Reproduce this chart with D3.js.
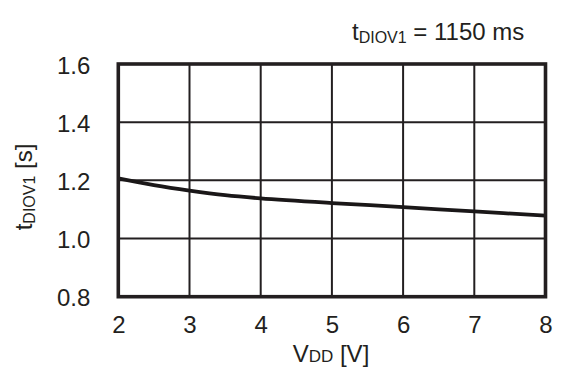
<!DOCTYPE html>
<html>
<head>
<meta charset="utf-8">
<script src="https://cdn.jsdelivr.net/npm/d3@7"></script>
<style>
  html, body { margin: 0; padding: 0; background: #ffffff; }
  svg text { font-family: "Liberation Sans", Arial, Helvetica, sans-serif; fill: #231f20; }
</style>
</head>
<body>
<svg id="chart" width="561" height="374"></svg>
<script>
// Supply voltage (V) and the resulting tDIOV1 delay (s)
const vddValues = [2, 2.5, 3, 3.5, 4, 5, 6, 7, 8];
const tDiovValues = [1.207, 1.184, 1.165, 1.149, 1.138, 1.122, 1.108, 1.093, 1.079];

// Axis ticks
const xTicks = [2, 3, 4, 5, 6, 7, 8];
const yTicks = [0.8, 1.0, 1.2, 1.4, 1.6];

const svg = d3.select("#chart");
const ink = "#231f20";

const plot = { left: 118.3, right: 545.5, top: 64, bottom: 296.7 };

const x = d3.scaleLinear().domain([2, 8]).range([plot.left, plot.right]);
const y = d3.scaleLinear().domain([0.8, 1.6]).range([plot.bottom, plot.top]);

// Grid lines
const grid = svg.append("g");
grid.selectAll("line.v")
  .data(xTicks.slice(1, -1))
  .join("line")
  .attr("x1", d => x(d)).attr("x2", d => x(d))
  .attr("y1", plot.top).attr("y2", plot.bottom)
  .attr("stroke", ink).attr("stroke-width", 2);
grid.selectAll("line.h")
  .data(yTicks.slice(1, -1))
  .join("line")
  .attr("x1", plot.left).attr("x2", plot.right)
  .attr("y1", d => y(d)).attr("y2", d => y(d))
  .attr("stroke", ink).attr("stroke-width", 2);

// Tick labels via axes
const xAxis = svg.append("g")
  .attr("transform", `translate(0,${plot.bottom})`)
  .call(d3.axisBottom(x).tickValues(xTicks).tickFormat(d3.format("d")).tickSize(0).tickPadding(0));
xAxis.select(".domain").remove();
xAxis.selectAll("text")
  .attr("y", 36).attr("dy", null)
  .style("font-size", "24px").attr("fill", ink);

const yAxis = svg.append("g")
  .attr("transform", `translate(${plot.left},0)`)
  .call(d3.axisLeft(y).tickValues(yTicks).tickFormat(d3.format(".1f")).tickSize(0).tickPadding(0));
yAxis.select(".domain").remove();
yAxis.selectAll("text")
  .attr("x", -28).attr("dy", null).attr("y", 9)
  .style("font-size", "24px").attr("fill", ink);

// Curve
const line = d3.line()
  .x((d, i) => x(vddValues[i]))
  .y(d => y(d))
  .curve(d3.curveCatmullRom.alpha(0.5));
svg.append("path")
  .datum(tDiovValues)
  .attr("d", line)
  .attr("fill", "none")
  .attr("stroke", "#1a1718")
  .attr("stroke-width", 3.8)
  .attr("stroke-linecap", "butt");

// Plot frame
svg.append("rect")
  .attr("x", plot.left).attr("y", plot.top)
  .attr("width", plot.right - plot.left)
  .attr("height", plot.bottom - plot.top)
  .attr("fill", "none")
  .attr("stroke", ink)
  .attr("stroke-width", 3.6);

// Header annotation
const title = svg.append("text")
  .attr("x", 352).attr("y", 40)
  .style("font-size", "24px");
title.append("tspan").text("t");
title.append("tspan").attr("dy", 3).style("font-size", "16px").text("DIOV1");
title.append("tspan").attr("dy", -3).text(" = 1150 ms");

// X axis title
const xTitle = svg.append("text")
  .attr("x", 331).attr("y", 362)
  .attr("text-anchor", "middle")
  .style("font-size", "24px");
xTitle.append("tspan").text("V");
xTitle.append("tspan").style("font-size", "17px").text("DD");
xTitle.append("tspan").text(" [V]");

// Y axis title
const yTitle = svg.append("text")
  .attr("transform", "translate(32,187) rotate(-90)")
  .attr("text-anchor", "middle")
  .style("font-size", "24px");
yTitle.append("tspan").text("t");
yTitle.append("tspan").attr("dy", 3).style("font-size", "16px").text("DIOV1");
yTitle.append("tspan").attr("dy", -3).text(" [s]");
</script>
</body>
</html>
